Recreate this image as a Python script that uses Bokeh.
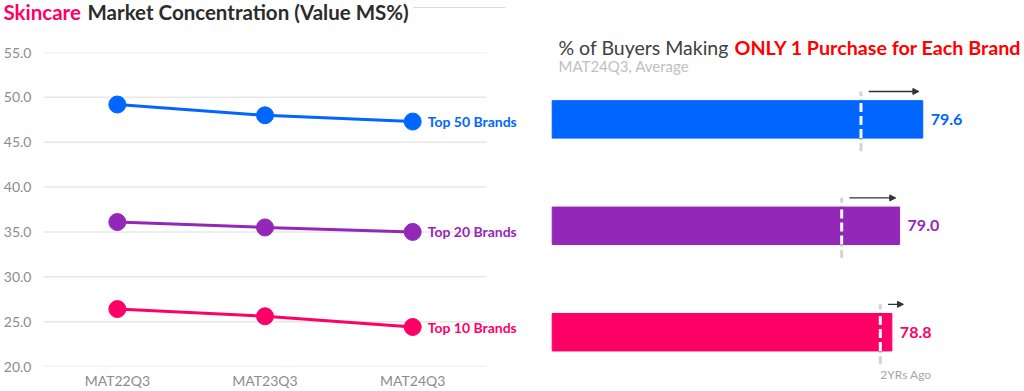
import numpy as np
from bokeh.plotting import figure
from bokeh.layouts import row, column
from bokeh.models import (FixedTicker, Range1d, ColumnDataSource, Arrow,
                          NormalHead, NumeralTickFormatter)
from bokeh.core.properties import value
from bokeh.embed import file_html
from bokeh.resources import INLINE

# ---------------- data ----------------
periods = ["MAT22Q3", "MAT23Q3", "MAT24Q3"]
series_names = ["Top 50 Brands", "Top 20 Brands", "Top 10 Brands"]
top50 = [49.2, 48.0, 47.3]
top20 = [36.1, 35.5, 35.0]
top10 = [26.4, 25.6, 24.4]
y_ticks = [20, 25, 30, 35, 40, 45, 50, 55]

bar_brands = ["Top 50 Brands", "Top 20 Brands", "Top 10 Brands"]
only1_now = [79.6, 79.0, 78.8]
only1_2yrs_ago = [78.0, 77.5, 78.5]

BLUE = "#0066FF"
PURPLE = "#9328B8"
PINK = "#FF0066"
RED = "#FF0000"
colors = [BLUE, PURPLE, PINK]
FONT = "Lato"


def no_align(p):
    if "frame_align" in p.properties():
        p.frame_align = False
    return p


def bare(p):
    p.axis.visible = False
    p.xgrid.visible = False
    p.ygrid.visible = False
    p.outline_line_color = None
    return p


# ---------------- left header (title) ----------------
hdr = figure(width=520, height=30, x_range=Range1d(0, 520), y_range=Range1d(30, 0),
             output_backend="svg", toolbar_location=None,
             min_border_left=0, min_border_right=0, min_border_top=0, min_border_bottom=0)
bare(hdr)
no_align(hdr)
hdr.text(x=[3], y=[11], text=["Skincare"], text_baseline="middle", text_align="left",
         text_font=value(FONT), text_font_style="bold", text_font_size="20.5px", text_color=PINK)
hdr.text(x=[87], y=[11], text=["Market Concentration (Value MS%)"], text_baseline="middle",
         text_align="left", text_font=value(FONT), text_font_style="bold",
         text_font_size="20.5px", text_color="#2B2B2B")
hdr.segment(x0=[413], x1=[505], y0=[7], y1=[7], line_color="#D9D9D9", line_width=1)

# ---------------- left: line chart ----------------
p1 = figure(width=520, height=361, x_range=Range1d(-0.5, 2.73), y_range=Range1d(20, 55),
            output_backend="svg", toolbar_location=None,
            min_border_left=40, min_border_right=0, min_border_top=22, min_border_bottom=24)
p1.outline_line_color = None
p1.xgrid.visible = False
p1.ygrid.visible = False
no_align(p1)

xs = list(range(len(periods)))
p1.segment(x0=-0.5, x1=2.5, y0=y_ticks, y1=y_ticks, line_color="#E8E8E8", line_width=1.5)

for name, vals, c in zip(series_names, [top50, top20, top10], colors):
    p1.line(xs, vals, line_color=c, line_width=3)
    p1.scatter(xs, vals, size=17, fill_color=c, line_color=c)
    p1.text(x=[xs[-1]], y=[vals[-1]], text=[name], x_offset=15, text_baseline="middle",
            text_align="left", text_font=value(FONT), text_font_style="bold",
            text_font_size="14px", text_color=c)

p1.yaxis.ticker = FixedTicker(ticks=y_ticks)
p1.yaxis.formatter = NumeralTickFormatter(format="0.0")
p1.xaxis.ticker = FixedTicker(ticks=xs)
p1.xaxis.major_label_overrides = {i: s for i, s in zip(xs, periods)}
for ax in (p1.xaxis, p1.yaxis):
    ax.axis_line_color = None
    ax.major_tick_line_color = None
    ax.minor_tick_line_color = None
    ax.major_tick_out = 0
    ax.major_tick_in = 0
    ax.major_label_text_color = "#8C8C8C"
    ax.major_label_text_font = FONT
    ax.major_label_text_font_size = "14px"
p1.yaxis.major_label_standoff = 12
p1.xaxis.major_label_standoff = 5

# ---------------- right: bar chart ----------------
W2, H2 = 504, 391
X0, X1 = 69.179, 82.236
Y_TOP, Y_BOT = 3.117, -0.557
p2 = figure(width=W2, height=H2, x_range=Range1d(X0, X1), y_range=Range1d(Y_BOT, Y_TOP),
            output_backend="svg", toolbar_location=None,
            min_border_left=0, min_border_right=0, min_border_top=0, min_border_bottom=0)
bare(p2)
no_align(p2)


def dx(px):
    return X0 + px * (X1 - X0) / W2


def dy(py):
    return Y_TOP - py * (Y_TOP - Y_BOT) / H2


bar_y = np.arange(len(bar_brands))[::-1].astype(float)
now = np.array(only1_now)
prev = np.array(only1_2yrs_ago)
bar_h = 0.352
src = ColumnDataSource(dict(
    y=bar_y, now=now, prev=prev, color=colors,
    label=[f"{v:.1f}" for v in now],
    g_y0=bar_y - 0.30, g_y1=bar_y + 0.263,
    w_y0=bar_y - bar_h / 2, w_y1=bar_y + bar_h / 2,
))

p2.segment(x0="prev", x1="prev", y0="g_y0", y1="g_y1", source=src,
           line_color="#D3D3D3", line_width=3, line_dash="8 3")
p2.hbar(y="y", left=70, right="now", height=bar_h, fill_color="color", line_color="color", source=src)
p2.segment(x0="prev", x1="prev", y0="w_y0", y1="w_y1", source=src,
           line_color="white", line_width=3, line_dash="9 4")
p2.text(x="now", y="y", text="label", x_offset=8, text_baseline="middle", text_align="left",
        text_font=value(FONT), text_font_style="bold", text_font_size="16px",
        text_color="color", source=src)

a_start = prev + 0.2
a_end = np.maximum(now - 0.1, a_start + 0.4)
arr_src = ColumnDataSource(dict(x0=a_start, x1=a_end, y=bar_y + 0.262))
p2.add_layout(Arrow(x_start="x0", x_end="x1", y_start="y", y_end="y", source=arr_src,
                    line_color="#333333", line_width=1.3,
                    end=NormalHead(size=6, fill_color="#333333", line_color="#333333")))

p2.text(x=[prev[-1]], y=[bar_y[-1] - 0.40], text=["2YRs Ago"], text_baseline="middle",
        text_align="left", text_font=value(FONT), text_font_size="12px", text_color="#A6A6A6")

p2.text(x=[dx(38)], y=[dy(47)], text=["% of Buyers Making"], text_baseline="middle",
        text_align="left", text_font=value(FONT), text_font_size="19.5px", text_color="#404040")
p2.text(x=[dx(214)], y=[dy(47)], text=["ONLY 1 Purchase for Each Brand"], text_baseline="middle",
        text_align="left", text_font=value(FONT), text_font_style="bold",
        text_font_size="19.7px", text_color=RED)
p2.text(x=[dx(38)], y=[dy(65)], text=["MAT24Q3, Average"], text_baseline="middle",
        text_align="left", text_font=value(FONT), text_font_size="15px", text_color="#BFBFBF")

layout = row(column(hdr, p1, spacing=0), p2, spacing=0)
open("out.html", "w").write(file_html(layout, INLINE))
